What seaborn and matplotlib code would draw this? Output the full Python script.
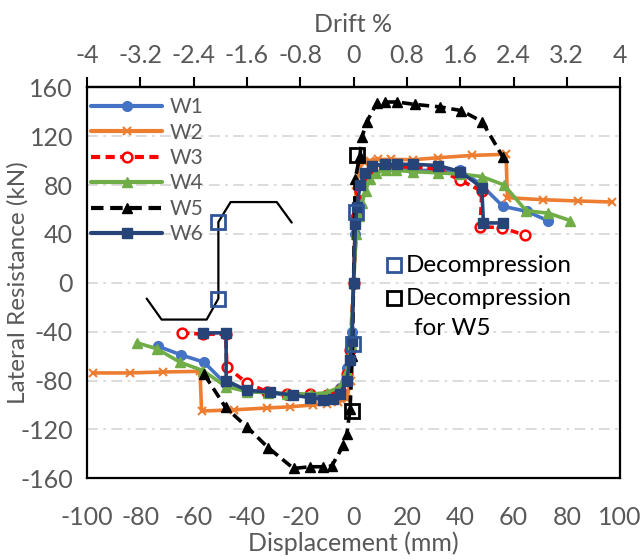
import numpy as np
import pandas as pd
import matplotlib
matplotlib.use("Agg")
import matplotlib.pyplot as plt
import seaborn as sns
from matplotlib.lines import Line2D

sns.set_style("white")
plt.rcParams['font.family'] = ['Lato', 'DejaVu Sans']

# ---------------- data (displacement mm, lateral resistance kN) ----------------
w1_x = [-73.3, -64.7, -56.1, -47.8, -40, -32, -25, -16.3, -10, -5, -2.5, -1.5, -0.5, 0,
        0.5, 1, 2, 3, 5, 8, 12, 16, 22.4, 31.8, 40, 47.5, 56, 65, 73.1]
w1_y = [-52, -59, -65, -83, -89, -90, -92, -93, -92, -86, -70, -55, -40, 0,
        40, 55, 70, 80, 90, 93, 93, 93, 92, 92, 92, 81, 62.6, 58.5, 50.6]

w2_x = [-97.6, -83.9, -71.4, -57.6, -57, -45, -32.6, -23.8, -15.1, -10.1, -5.7, -2.6, -1, 0,
        1, 2.5, 4, 6, 9, 14, 22.4, 31.8, 44.4, 57.2, 57.7, 71, 84.1, 97.1]
w2_y = [-73.8, -73.8, -73, -72.5, -105, -104, -102.5, -101.5, -100, -99, -97.5, -95, -80, 0,
        80, 95, 99, 100, 101, 101, 100.8, 102.4, 104.3, 105.2, 69.7, 68, 67, 66.1]

w3_x = [-64.5, -56.4, -48, -47.5, -40, -32.6, -25, -16.3, -10, -5, -2.5, -1.3, 0,
        1.3, 2.5, 5, 8, 12, 16, 22, 31.8, 40, 48.1, 47.5, 55.6, 64.4]
w3_y = [-41, -42, -42, -69, -82, -89, -91, -91, -92, -88, -75, -55, 0,
        55, 75, 88, 94, 95, 95, 95, 93, 84, 75, 46, 45, 39]

w4_x = [-81.4, -73.8, -65.1, -56.4, -47.8, -40, -32, -25, -16, -10, -5, -2.5, -1, 0,
        1, 2, 3, 4.5, 6, 8.5, 12, 16, 22.4, 31.8, 40, 48.1, 56.5, 64.7, 73.1, 81.2]
w4_y = [-49, -54, -65, -72, -85, -89, -90, -91, -91, -90, -85, -72, -50, 0,
        40, 55, 65, 75, 85, 90, 92, 92, 91, 90, 89, 87, 80, 59, 57, 51]

w5_x = [-56, -48, -40, -32, -22.5, -16.3, -11.3, -8.2, -3.8, -2.5, -1.3, -0.5, 0,
        0.6, 2.4, 3.1, 5.0, 8.7, 11.8, 16.3, 23.1, 32.5, 40.4, 48.2, 56.0]
w5_y = [-75, -102, -118, -135, -152, -150.6, -150.6, -150, -133, -123.5, -103, -60, 0,
        85, 104, 119, 132, 147, 148, 148, 146, 144, 141, 132, 103]

w6_x = [-56.4, -47.8, -47.8, -40.1, -31.3, -22.6, -16.3, -11.3, -7.6, -5.1, -2.6, -1.3, -0.7, 0,
        0.7, 1.3, 2.4, 4.3, 6.8, 11.8, 16.2, 22.4, 31.8, 40, 48.1, 48.7, 56.2]
w6_y = [-41, -41, -80, -88, -89.4, -92, -94, -95.6, -95, -91, -80, -63, -48, 0,
        48, 62, 80, 90, 96, 97, 97, 97, 96, 91, 78, 49, 49]

# decompression points
dec_x = [0.9, -0.3, -50.7, -50.7]
dec_y = [58, -50, 50, -13]
dec5_x = [1.4, -0.7]
dec5_y = [104.3, -104.9]

# bracket guide line
guide_x = [-77.6, -72.0, -55.1, -50.7, -50.7, -46.1, -28.8, -23.2]
guide_y = [-12.9, -30.1, -30.1, -12.9, 49.8, 66.1, 66.1, 49.3]

series = {
    "W1": (w1_x, w1_y), "W2": (w2_x, w2_y), "W3": (w3_x, w3_y),
    "W4": (w4_x, w4_y), "W5": (w5_x, w5_y), "W6": (w6_x, w6_y),
}

yticks = [-160, -120, -80, -40, 0, 40, 80, 120, 160]
xticks = [-100, -80, -60, -40, -20, 0, 20, 40, 60, 80, 100]
drift_ticks = [-4, -3.2, -2.4, -1.6, -0.8, 0, 0.8, 1.6, 2.4, 3.2, 4]

styles = {
    "W1": dict(color="#4472C4", marker="o", linestyle="-", markersize=7, mfc="#4472C4", mec="#4472C4"),
    "W2": dict(color="#ED7D31", marker="x", linestyle="-", markersize=6, mfc="#ED7D31", mec="#ED7D31", mew=1.5),
    "W3": dict(color="#FF0000", marker="o", linestyle=(0, (2.2, 1.3)), markersize=7, mfc="white", mec="#FF0000", mew=1.8),
    "W4": dict(color="#70AD47", marker="^", linestyle="-", markersize=7, mfc="#70AD47", mec="#70AD47"),
    "W5": dict(color="black", marker="^", linestyle=(0, (3, 1.6)), markersize=7, mfc="black", mec="black"),
    "W6": dict(color="#264478", marker="s", linestyle="-", markersize=7, mfc="#264478", mec="#264478"),
}

gray = "#595959"

fig = plt.figure(figsize=(6.44, 5.60), dpi=100)
ax = fig.add_axes([0.135, 0.146, 0.828, 0.698])

for name, (xs, ys) in series.items():
    df = pd.DataFrame({"x": xs, "y": ys})
    st = styles[name]
    sns.lineplot(data=df, x="x", y="y", sort=False, estimator=None, ax=ax,
                 color=st["color"], linewidth=2.6, linestyle=st["linestyle"],
                 marker=st["marker"], markersize=st["markersize"],
                 markerfacecolor=st["mfc"], markeredgecolor=st["mec"],
                 markeredgewidth=st.get("mew", 1), legend=False, zorder=3)

# guide line and decompression markers
sns.lineplot(x=guide_x, y=guide_y, sort=False, estimator=None, ax=ax, color="black",
             linewidth=1.6, legend=False, zorder=4)
ax.plot(dec_x, dec_y, linestyle="none", marker="s", markersize=10, mfc="none",
        mec="#2F5597", mew=2, zorder=5)
ax.plot(dec5_x, dec5_y, linestyle="none", marker="s", markersize=10, mfc="none",
        mec="black", mew=2, zorder=5)

ax.set_xlim(-100, 100)
ax.set_ylim(-160, 160)
ax.set_xticks(xticks)
ax.set_yticks(yticks)
ax.set_xticklabels([str(v) for v in xticks])
ax.set_yticklabels([str(v) for v in yticks])
ax.tick_params(axis="both", labelsize=18, colors=gray, length=7, width=1.5, direction="in")
ax.tick_params(axis="x", color="black", pad=20)
ax.tick_params(axis="y", color="black", pad=10)
for sp in ax.spines.values():
    sp.set_visible(True)
    sp.set_color("black")
    sp.set_linewidth(1.6)

ax.yaxis.grid(True, color="#D9D9D9", linestyle=(0, (6, 3, 1.5, 3)), linewidth=1.3, zorder=0)
ax.xaxis.grid(False)
ax.set_axisbelow(True)

ax.set_xlabel("Displacement (mm)", fontsize=18, color=gray, labelpad=2)
ax.set_ylabel("Lateral Resistance (kN)", fontsize=17.5, color=gray)
ax.yaxis.set_label_coords(-0.109, 0.5)

secax = ax.secondary_xaxis("top", functions=(lambda x: x / 25.0, lambda d: d * 25.0))
secax.set_xticks(drift_ticks)
secax.set_xticklabels(["{:g}".format(v) for v in drift_ticks])
secax.tick_params(axis="x", labelsize=18, colors=gray, color="black", length=7, width=1.5,
                  direction="out", pad=8)
secax.spines["top"].set_linewidth(1.6)
secax.set_xlabel("Drift %", fontsize=18, color=gray, labelpad=8)

# legend for walls
handles = [Line2D([0], [0], color=styles[n]["color"], linewidth=3, linestyle=styles[n]["linestyle"],
                  marker=styles[n]["marker"], markersize=styles[n]["markersize"],
                  markerfacecolor=styles[n]["mfc"], markeredgecolor=styles[n]["mec"],
                  markeredgewidth=styles[n].get("mew", 1)) for n in series]
leg = ax.legend(handles, list(series.keys()), loc="upper left", bbox_to_anchor=(0.008, 0.975),
                frameon=False, fontsize=15, handlelength=3.4, handletextpad=0.35,
                labelspacing=0.26, borderpad=0, borderaxespad=0)
for t in leg.get_texts():
    t.set_color(gray)

# decompression legend (manual)
ax.plot([0.576], [0.545], transform=ax.transAxes, marker="s", markersize=10, mfc="none",
        mec="#2F5597", mew=2, linestyle="none", clip_on=False)
ax.plot([0.576], [0.460], transform=ax.transAxes, marker="s", markersize=10, mfc="none",
        mec="black", mew=2, linestyle="none", clip_on=False)
ax.text(0.597, 0.545, "Decompression", transform=ax.transAxes, fontsize=17.5, color="black",
        va="center", ha="left")
ax.text(0.597, 0.460, "Decompression", transform=ax.transAxes, fontsize=17.5, color="black",
        va="center", ha="left")
ax.text(0.614, 0.384, "for W5", transform=ax.transAxes, fontsize=17.5, color="black",
        va="center", ha="left")

fig.savefig("out.png", dpi=100)
